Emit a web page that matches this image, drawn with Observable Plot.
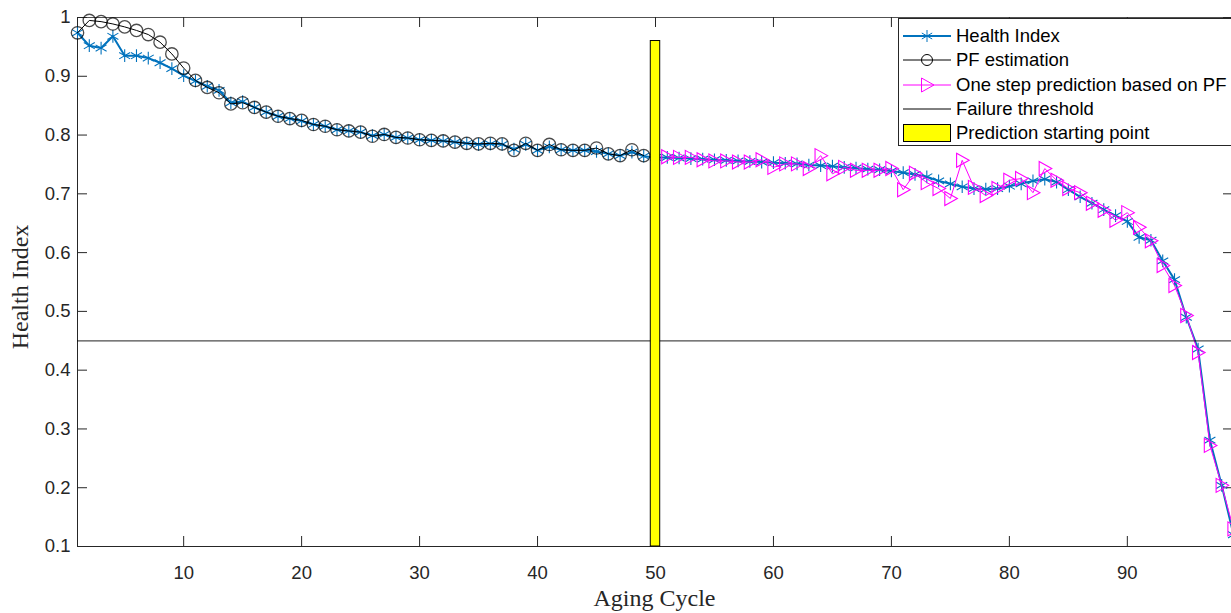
<!DOCTYPE html>
<html>
<head>
<meta charset="utf-8">
<script src="https://cdn.jsdelivr.net/npm/d3@7"></script>
<script src="https://cdn.jsdelivr.net/npm/@observablehq/plot@0.6"></script>
<style>
  html, body { margin: 0; padding: 0; background: #fff; overflow: hidden; }
  #wrap { position: relative; width: 1231px; height: 613px; overflow: hidden; }
  #legend { position: absolute; left: 898px; top: 18px; width: 345px; height: 128px;
    border: 1px solid #262626; background: #fff; box-sizing: border-box;
    font-family: "Liberation Sans", Arial, sans-serif; font-size: 18.5px; color: #000; }
  .row { position: absolute; left: 0; height: 24px; display: flex; align-items: center; white-space: nowrap; }
  .row svg { margin-left: 4px; margin-right: 5px; flex: none; }
</style>
</head>
<body>
<div id="wrap"></div>
<script>
// ---- data ----
const xTicks = [10, 20, 30, 40, 50, 60, 70, 80, 90];
const yTicks = [0.1, 0.2, 0.3, 0.4, 0.5, 0.6, 0.7, 0.8, 0.9, 1];
const xDomain = [1, 99];
const yDomain = [0.1, 1];
const failureThreshold = 0.45;
const predictionStart = 50;
const predictionBarTop = 0.96;
const predictionBarHalfWidth = 0.4;

// Health Index, cycles 1..99
const healthIndex = [
  0.974, 0.952, 0.948, 0.968, 0.935, 0.935, 0.931, 0.923, 0.913, 0.901,
  0.892, 0.883, 0.876, 0.855, 0.857, 0.847, 0.839, 0.832, 0.828, 0.824,
  0.818, 0.815, 0.809, 0.807, 0.805, 0.799, 0.801, 0.796, 0.795, 0.792,
  0.791, 0.790, 0.788, 0.786, 0.784, 0.785, 0.784, 0.776, 0.784, 0.774,
  0.780, 0.775, 0.774, 0.774, 0.772, 0.768, 0.765, 0.771, 0.764, 0.762,
  0.762, 0.761, 0.760, 0.759, 0.758, 0.757, 0.756, 0.755, 0.754, 0.753,
  0.752, 0.751, 0.749, 0.748, 0.747, 0.745, 0.744, 0.742, 0.741, 0.739,
  0.736, 0.733, 0.729, 0.722, 0.717, 0.712, 0.709, 0.708, 0.709, 0.713,
  0.717, 0.722, 0.725, 0.720, 0.707, 0.695, 0.684, 0.673, 0.663, 0.653,
  0.626, 0.621, 0.586, 0.554, 0.490, 0.436, 0.281, 0.204, 0.120
];
// PF estimation, cycles 1..49
const pfEstimation = [
  0.974, 0.995, 0.993, 0.989, 0.984, 0.978, 0.971, 0.958, 0.938, 0.914,
  0.893, 0.881, 0.872, 0.853, 0.855, 0.847, 0.839, 0.832, 0.828, 0.825,
  0.818, 0.815, 0.809, 0.807, 0.805, 0.798, 0.801, 0.796, 0.795, 0.792,
  0.791, 0.790, 0.788, 0.786, 0.785, 0.786, 0.785, 0.774, 0.786, 0.774,
  0.784, 0.775, 0.774, 0.774, 0.778, 0.768, 0.765, 0.775, 0.765
];
// One step prediction based on PF, cycles 51..99
const prediction = [
  0.763, 0.762, 0.762, 0.758, 0.756, 0.756, 0.754, 0.754, 0.758, 0.745,
  0.751, 0.751, 0.743, 0.765, 0.734, 0.745, 0.740, 0.740, 0.740, 0.743,
  0.707, 0.735, 0.719, 0.709, 0.692, 0.757, 0.711, 0.697, 0.709, 0.723,
  0.726, 0.702, 0.743, 0.723, 0.709, 0.702, 0.684, 0.672, 0.655, 0.668,
  0.643, 0.620, 0.578, 0.544, 0.493, 0.430, 0.272, 0.204, 0.130
];

const hiData = healthIndex.map((v, i) => ({cycle: i + 1, v}));
const pfData = pfEstimation.map((v, i) => ({cycle: i + 1, v}));
const predData = prediction.map((v, i) => ({cycle: predictionStart + 1 + i, v}));
const barData = [{x1: predictionStart - predictionBarHalfWidth, x2: predictionStart + predictionBarHalfWidth, y1: yDomain[0], y2: predictionBarTop}];

const BLUE = "#0072BD", PINK = "#FF00FF", AX = "#262626";

const triRight = {
  draw(ctx, size) {
    const r = Math.sqrt(size / Math.PI);
    ctx.moveTo(-0.8 * r, -r);
    ctx.lineTo(r, 0);
    ctx.lineTo(-0.8 * r, r);
    ctx.closePath();
  }
};

const chart = Plot.plot({
  width: 1231,
  height: 613,
  marginTop: 17,
  marginBottom: 67,
  marginLeft: 77,
  marginRight: 0,
  x: {domain: xDomain, range: [77, 1233]},
  y: {domain: yDomain, range: [546, 17]},
  style: {fontFamily: "'Liberation Sans', Arial, sans-serif", fontSize: "18px", color: AX, background: "#fff"},
  marks: [
    // frame lines (left, bottom, top)
    Plot.ruleX([xDomain[0]], {stroke: AX, strokeWidth: 1}),
    Plot.ruleY([yDomain[0]], {stroke: AX, strokeWidth: 1}),
    Plot.ruleY([yDomain[1]], {stroke: AX, strokeOpacity: 0.8, strokeWidth: 1}),
    // inward tick marks
    Plot.tickX(xTicks, {x: d => d, insetTop: 519, stroke: AX}),
    Plot.tickX(xTicks, {x: d => d, insetBottom: 519, stroke: AX}),
    Plot.tickY(yTicks, {y: d => d, insetRight: 1144, stroke: AX}),
    Plot.tickY(yTicks, {y: d => d, insetLeft: 1146, stroke: AX}),
    // tick labels
    Plot.axisX({ticks: xTicks, tickSize: 0, tickPadding: 19, label: null, tickFormat: d => String(d), fontSize: 18.5}),
    Plot.axisY({ticks: yTicks, tickSize: 0, tickPadding: 7, label: null, tickFormat: d => String(+d.toFixed(1)), fontSize: 18.5}),
    // axis titles
    Plot.text(["Aging Cycle"], {frameAnchor: "bottom", dy: 52, lineAnchor: "middle", textAnchor: "middle", fontFamily: "'Liberation Serif', 'Times New Roman', serif", fontSize: 24, fill: AX}),
    Plot.text(["Health Index"], {frameAnchor: "left", dx: -57, dy: 5, lineAnchor: "middle", textAnchor: "middle", rotate: -90, fontFamily: "'Liberation Serif', 'Times New Roman', serif", fontSize: 24, fill: AX}),
    // Health index
    Plot.lineY(hiData, {x: "cycle", y: "v", stroke: BLUE, strokeWidth: 2}),
    Plot.dot(hiData, {x: "cycle", y: "v", symbol: "asterisk", r: 6, stroke: BLUE, strokeWidth: 1.1}),
    // PF estimation
    Plot.lineY(pfData, {x: "cycle", y: "v", stroke: "#000", strokeWidth: 1}),
    Plot.dot(pfData, {x: "cycle", y: "v", r: 6.2, stroke: "#000", strokeOpacity: 0.7, strokeWidth: 1.3, fill: "none"}),
    // prediction
    Plot.lineY(predData, {x: "cycle", y: "v", stroke: PINK, strokeWidth: 1}),
    Plot.dot(predData, {x: "cycle", y: "v", symbol: triRight, r: 7, stroke: PINK, strokeWidth: 1.1, fill: "none"}),
    // failure threshold
    Plot.ruleY([failureThreshold], {stroke: "#000", strokeOpacity: 0.7, strokeWidth: 1.2}),
    // prediction starting point
    Plot.rect(barData, {x1: "x1", x2: "x2", y1: "y1", y2: "y2", fill: "#FFFF00", stroke: "#000", strokeWidth: 1})
  ]
});

const wrap = document.getElementById("wrap");
wrap.appendChild(chart);

// legend
const legendItems = [
  {label: "Health Index", kind: "star"},
  {label: "PF estimation", kind: "circle"},
  {label: "One step prediction based on PF", kind: "tri"},
  {label: "Failure threshold", kind: "line"},
  {label: "Prediction starting point", kind: "patch"}
];
const legend = document.createElement("div");
legend.id = "legend";
legendItems.forEach((it, i) => {
  const row = document.createElement("div");
  row.className = "row";
  row.style.top = (5 + i * 24.3) + "px";
  let sw = "";
  if (it.kind === "star") {
    sw = `<line x1="0" y1="12" x2="48" y2="12" stroke="${BLUE}" stroke-width="2"/>
      <g stroke="${BLUE}" stroke-width="1"><line x1="24" y1="6" x2="24" y2="18"/><line x1="18.8" y1="9" x2="29.2" y2="15"/><line x1="18.8" y1="15" x2="29.2" y2="9"/></g>`;
  } else if (it.kind === "circle") {
    sw = `<line x1="0" y1="12" x2="48" y2="12" stroke="#000" stroke-width="1"/>
      <circle cx="24" cy="12" r="5.5" fill="none" stroke="#000" stroke-width="1"/>`;
  } else if (it.kind === "tri") {
    sw = `<line x1="0" y1="12" x2="48" y2="12" stroke="${PINK}" stroke-width="1"/>
      <path d="M18.5,5 L31,12 L18.5,19 Z" fill="none" stroke="${PINK}" stroke-width="1"/>`;
  } else if (it.kind === "line") {
    sw = `<line x1="0" y1="12" x2="48" y2="12" stroke="#000" stroke-width="1"/>`;
  } else {
    sw = `<rect x="0.5" y="3.5" width="47" height="17" fill="#FFFF00" stroke="#000" stroke-width="1"/>`;
  }
  row.innerHTML = `<svg width="48" height="24">${sw}</svg><span>${it.label}</span>`;
  legend.appendChild(row);
});
wrap.appendChild(legend);
</script>
</body>
</html>
